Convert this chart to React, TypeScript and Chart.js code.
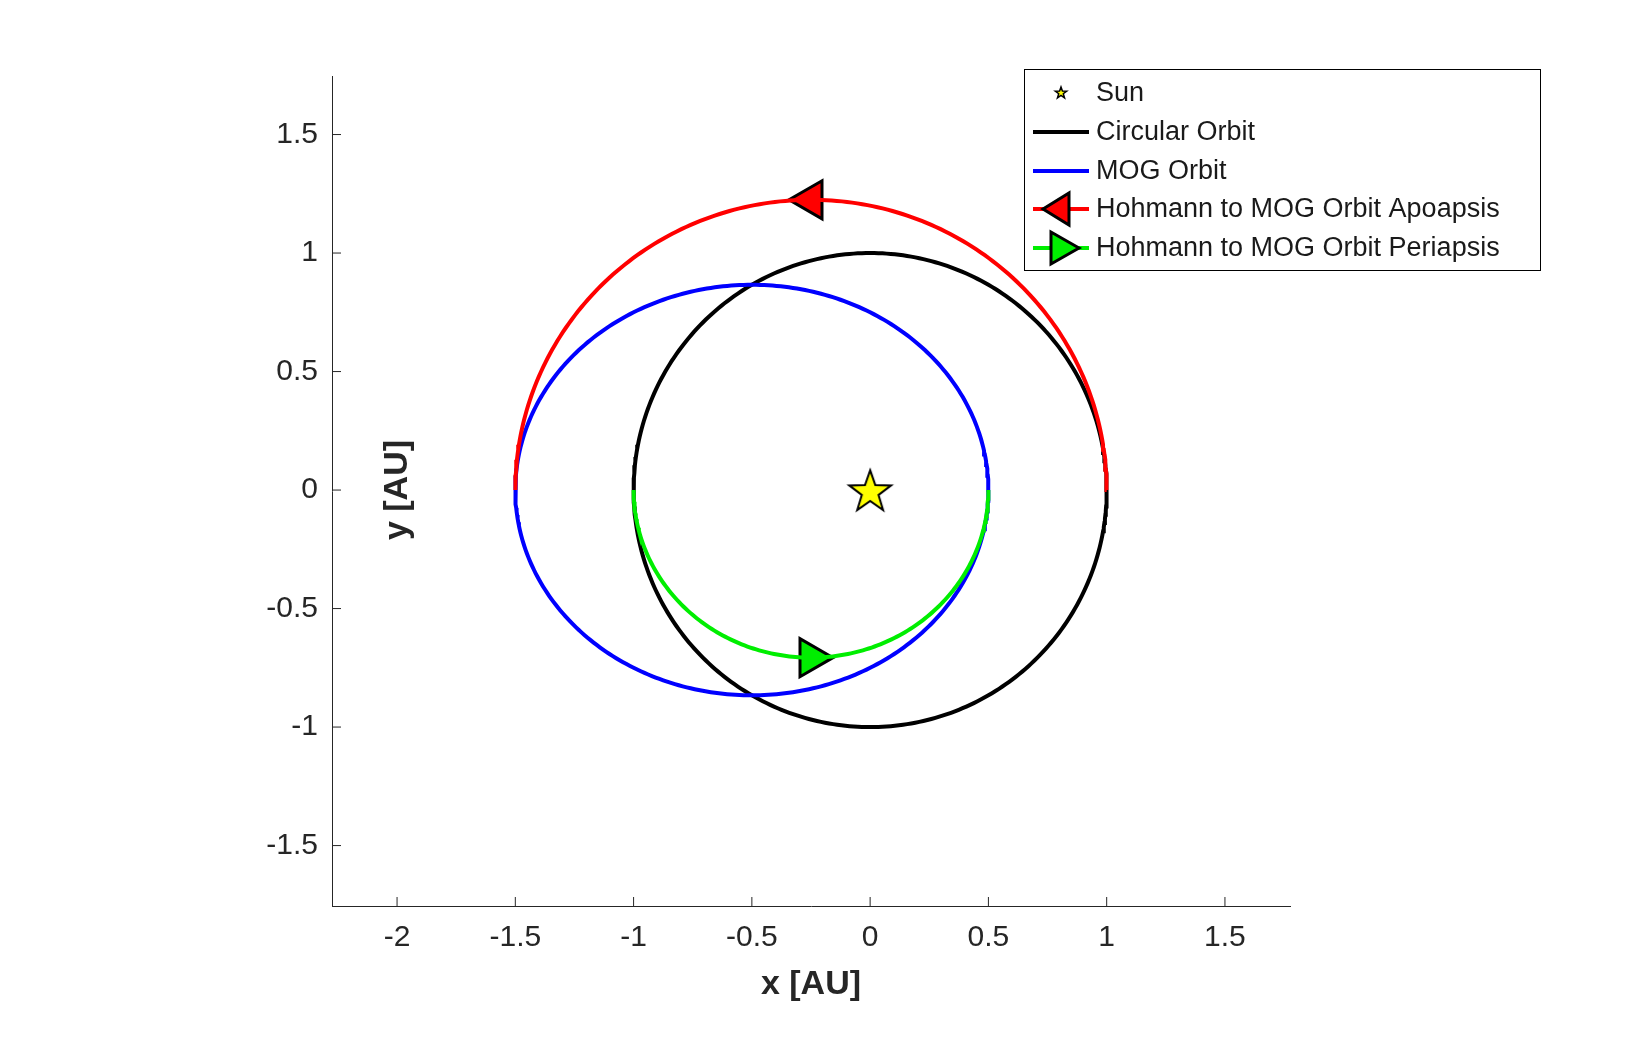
import React, { useEffect, useRef } from "react";
import { Chart, registerables } from "chart.js";
Chart.register(...registerables);

// Orbit parameters: [centerX, semiAxisX, semiAxisY, startAngleDeg, endAngleDeg]
const circularOrbit = [0, 1, 1, 0, 360];
const mogOrbit = [-0.5, 1, 0.866, 0, 360];
const apoTransfer = [-0.25, 1.25, 1.2247, 0, 180];
const periTransfer = [-0.25, 0.75, 0.7071, 180, 360];
const sunPoint = [{ x: 0, y: 0 }];
const apoMarker = [{ x: -0.25, y: 1.2247 }];
const periMarker = [{ x: -0.25, y: -0.7071 }];
const xTicks = [-2, -1.5, -1, -0.5, 0, 0.5, 1, 1.5];
const yTicks = [-1.5, -1, -0.5, 0, 0.5, 1, 1.5];
const legendLabels = ["Sun", "Circular Orbit", "MOG Orbit", "Hohmann to MOG Orbit Apoapsis", "Hohmann to MOG Orbit Periapsis"];

function orbit(p: number[]) {
  const [cx, a, b, s, e] = p;
  const pts = [];
  for (let d = s; d <= e + 1e-9; d += 1) {
    const t = (d * Math.PI) / 180;
    pts.push({ x: cx + a * Math.cos(t), y: b * Math.sin(t) });
  }
  return pts;
}

function starPath(ctx: CanvasRenderingContext2D, cx: number, cy: number, R: number) {
  const r = R * 0.4;
  ctx.beginPath();
  for (let i = 0; i < 10; i++) {
    const ang = -Math.PI / 2 + (i * Math.PI) / 5;
    const rr = i % 2 === 0 ? R : r;
    const x = cx + rr * Math.cos(ang), y = cy + rr * Math.sin(ang);
    i === 0 ? ctx.moveTo(x, y) : ctx.lineTo(x, y);
  }
  ctx.closePath();
}

function makeStar(R: number, lw: number) {
  const c = document.createElement("canvas");
  const s = Math.ceil(R * 2 + lw * 2 + 2);
  c.width = s; c.height = s;
  const ctx = c.getContext("2d")!;
  starPath(ctx, s / 2, s / 2 + R * 0.1, R);
  ctx.fillStyle = "#ffff00"; ctx.fill();
  ctx.lineWidth = lw; ctx.strokeStyle = "#000"; ctx.stroke();
  return c;
}

const FONT = "'Liberation Sans', Arial, Helvetica, sans-serif";

export default function App() {
  const ref = useRef<HTMLCanvasElement>(null);
  useEffect(() => {
    const starImg = makeStar(22, 2);
    const legendPlugin = {
      id: "mlegend",
      afterDraw(chart: any) {
        const ctx = chart.ctx as CanvasRenderingContext2D;
        ctx.save();
        // axis titles
        ctx.fillStyle = "#262626";
        ctx.font = `bold 34px ${FONT}`;
        ctx.textAlign = "center"; ctx.textBaseline = "middle";
        ctx.fillText("x [AU]", 811, 985);
        ctx.save(); ctx.translate(398, 490); ctx.rotate(-Math.PI / 2);
        ctx.fillText("y [AU]", 0, 0); ctx.restore();
        // ticks marks (inward)
        const xs = chart.scales.x, ys_ = chart.scales.y, ca = chart.chartArea;
        ctx.strokeStyle = "#262626"; ctx.lineWidth = 1;
        xTicks.forEach((v) => { const px = xs.getPixelForValue(v); ctx.beginPath(); ctx.moveTo(px, ca.bottom); ctx.lineTo(px, ca.bottom - 9); ctx.stroke(); });
        yTicks.forEach((v) => { const py = ys_.getPixelForValue(v); ctx.beginPath(); ctx.moveTo(ca.left, py); ctx.lineTo(ca.left + 9, py); ctx.stroke(); });
        // legend
        ctx.textAlign = "left";
        ctx.fillStyle = "#fff";
        ctx.fillRect(1024, 69, 516, 201);
        ctx.strokeStyle = "#000"; ctx.lineWidth = 1;
        ctx.strokeRect(1024.5, 69.5, 516, 201);
        const ys = [93, 132, 171, 209, 248];
        ctx.font = `27px ${FONT}`; ctx.textBaseline = "middle";
        ys.forEach((y, i) => {
          if (i === 0) {
            starPath(ctx, 1061, y, 6);
            ctx.fillStyle = "#ffff00"; ctx.fill(); ctx.lineWidth = 1.5; ctx.strokeStyle = "#000"; ctx.stroke();
          } else {
            const col = ["#000", "#0000ff", "#ff0000", "#00ee00"][i - 1];
            ctx.strokeStyle = col; ctx.lineWidth = 4;
            ctx.beginPath(); ctx.moveTo(1033, y); ctx.lineTo(1089, y); ctx.stroke();
            if (i >= 3) {
              ctx.beginPath();
              if (i === 3) { ctx.moveTo(1043, y); ctx.lineTo(1069, y - 16); ctx.lineTo(1069, y + 16); }
              else { ctx.moveTo(1079, y); ctx.lineTo(1051, y - 16); ctx.lineTo(1051, y + 16); }
              ctx.closePath();
              ctx.fillStyle = col; ctx.fill(); ctx.lineWidth = 3; ctx.strokeStyle = "#000"; ctx.stroke();
            }
          }
          ctx.fillStyle = "#1a1a1a";
          ctx.fillText(legendLabels[i], 1096, y + 1);
        });
        ctx.restore();
      },
    };
    const line = (data: any, color: string) => ({
      type: "line", data, borderColor: color, borderWidth: 4, pointRadius: 0, showLine: true, fill: false, tension: 0,
    });
    const chart = new Chart(ref.current!, {
      type: "scatter",
      data: {
        datasets: [
          line(orbit(apoTransfer), "#ff0000"),
          line(orbit(periTransfer), "#00ee00"),
          line(orbit(mogOrbit), "#0000ff"),
          line(orbit(circularOrbit), "#000000"),
          { data: apoMarker, pointStyle: "triangle", rotation: -90, radius: 22, backgroundColor: "#ff0000", borderColor: "#000", borderWidth: 3 } as any,
          { data: periMarker, pointStyle: "triangle", rotation: 90, radius: 22, backgroundColor: "#00ee00", borderColor: "#000", borderWidth: 3 } as any,
          { data: sunPoint, pointStyle: starImg, radius: 22 } as any,
        ] as any,
      },
      plugins: [legendPlugin],
      options: {
        animation: false, responsive: false,
        layout: { padding: { left: 0, right: 342, top: 76, bottom: 0 } },
        plugins: { legend: { display: false }, tooltip: { enabled: false } },
        scales: {
          x: {
            type: "linear", min: -2.275, max: 1.775,
            afterBuildTicks: (s: any) => { s.ticks = xTicks.map((v) => ({ value: v })); },
            afterFit: (s: any) => { s.height = 152; },
            grid: { display: false, drawTicks: false },
            border: { color: "#262626", width: 1 },
            ticks: { color: "#262626", font: { size: 30, family: FONT }, padding: 14, maxRotation: 0, callback: (v: any) => String(v) },
            title: { display: false },
          },
          y: {
            type: "linear", min: -1.755, max: 1.747,
            afterBuildTicks: (s: any) => { s.ticks = yTicks.map((v) => ({ value: v })); },
            afterFit: (s: any) => { s.width = 332; },
            grid: { display: false, drawTicks: false },
            border: { color: "#262626", width: 1 },
            ticks: { color: "#262626", font: { size: 30, family: FONT }, padding: 14, callback: (v: any) => String(v) },
            title: { display: false },
          },
        },
      } as any,
    } as any);
    return () => chart.destroy();
  }, []);
  return (
    <div style={{ position: "absolute", left: 0, top: 0, width: 1632, height: 1058, background: "#fff" }}>
      <canvas ref={ref} width={1632} height={1058} style={{ width: 1632, height: 1058 }} />
    </div>
  );
}
